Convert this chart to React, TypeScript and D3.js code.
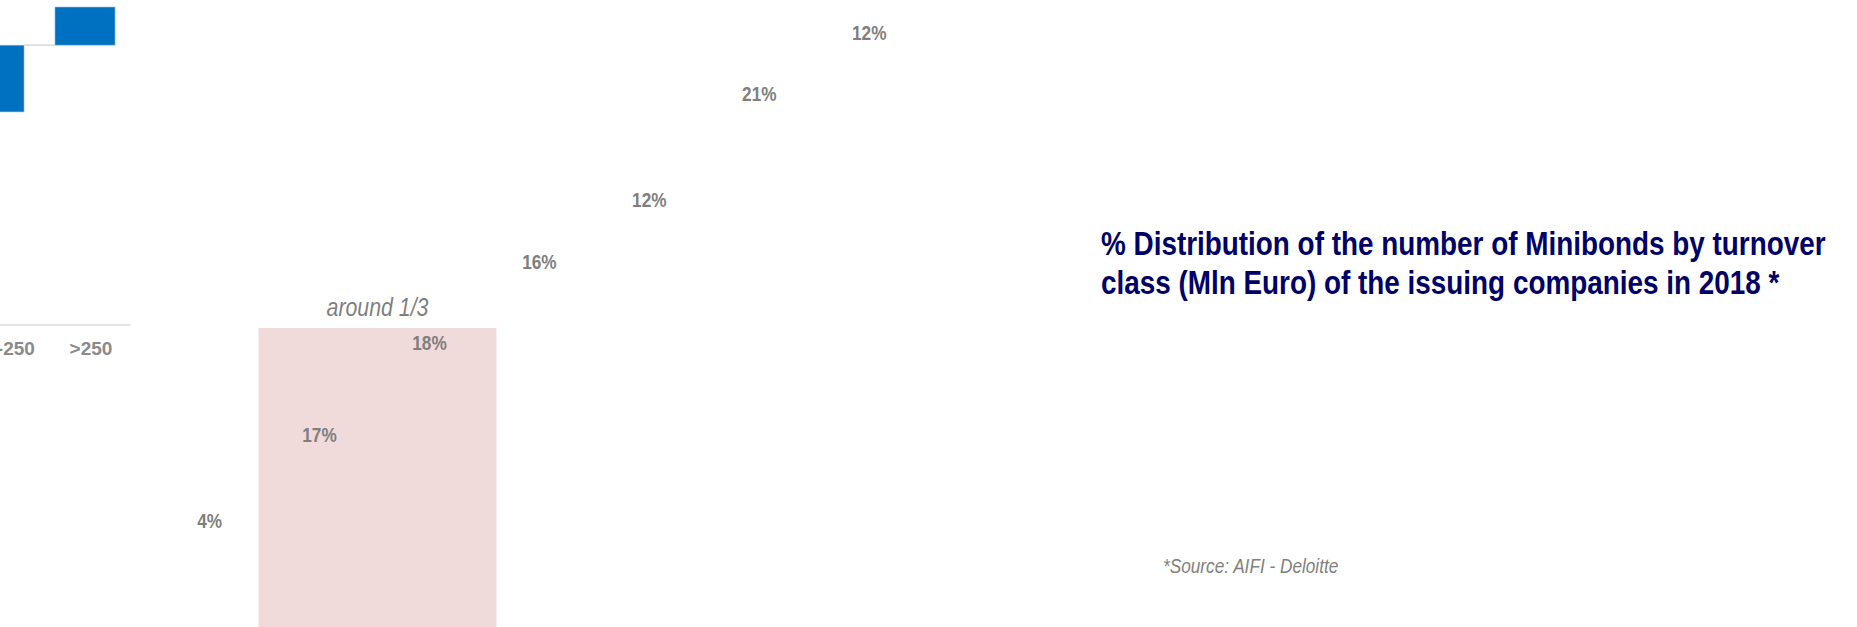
import * as d3 from 'd3';

// turnover classes (Mln Euro) and share of minibonds in 2018
const categories = ['<5', '5-10', '10-25', '25-50', '50-100', '100-250', '>250'];
const shares = [4, 17, 18, 16, 12, 21, 12];
const highlighted = ['5-10', '10-25'];
const highlightNote = 'around 1/3';
const titleLines = [
    '% Distribution of the number of Minibonds by turnover',
    'class (Mln Euro) of the issuing companies in 2018 *',
];
const sourceNote = '*Source: AIFI - Deloitte';

const W = 1857;
const H = 627;
const GREY = '#7f7f7f';
const FONT = "'Liberation Sans', Arial, sans-serif";
const NARROW = 0.82; // no Arial Narrow here, so squeeze Liberation Sans

// text squeezed horizontally to look like a narrow face
const Narrow = ({ x, y, children, ...rest }: any) => (
    <text transform={`translate(${x},${y}) scale(${NARROW},1)`} fontFamily={FONT} {...rest}>
        {children}
    </text>
);

const App = () => {
    const ends = Array.from(d3.cumsum(shares));
    const starts = ends.map((e, i) => e - shares[i]);

    // small blue waterfall, mostly cut off on the left
    const xMini = d3.scaleBand<string>()
        .domain(categories)
        .range([-506.5, 130.5])
        .paddingInner(0.34)
        .paddingOuter(0.17);
    const yMini = d3.scaleLinear().domain([0, 100]).range([325, 7]);
    const mbw = xMini.bandwidth();

    // large waterfall whose bars are hidden, only labels show
    const xBig = d3.scaleBand<string>().domain(categories).range([154.6, 924.2]);
    const yBig = d3.scaleLinear().domain([0, 100]).range([541, 32]);
    const bw = xBig.bandwidth();

    const hx0 = xBig(highlighted[0])! - 6;
    const hx1 = xBig(highlighted[highlighted.length - 1])! + bw + 12;

    return (
        <svg width={W} height={H} style={{ position: 'absolute', left: 0, top: 0, background: '#fff' }}>
            {/* highlight band */}
            <rect x={hx0} y={328} width={hx1 - hx0} height={H - 328} fill="#f0dada" />
            <Narrow x={(hx0 + hx1) / 2} y={316} textAnchor="middle" fill={GREY} fontStyle="italic" fontSize={26}>
                {highlightNote}
            </Narrow>

            {/* mini chart */}
            <line x1={0} x2={xMini.range()[1]} y1={yMini(0)} y2={yMini(0)} stroke="#d9d9d9" strokeWidth={1.5} />
            {categories.map((c, i) => (
                <rect key={c} x={xMini(c)} y={yMini(ends[i])} width={mbw}
                    height={yMini(starts[i]) - yMini(ends[i])} fill="#0070c0" stroke="#9cc3e6" strokeWidth={0.6} />
            ))}
            {categories.slice(0, -1).map((c, i) => (
                <line key={c} x1={xMini(c)! + mbw} x2={xMini(categories[i + 1])}
                    y1={yMini(ends[i])} y2={yMini(ends[i])} stroke="#d9d9d9" strokeWidth={1.5} />
            ))}
            {categories.filter(c => xMini(c)! + mbw > 0).map(c => (
                <text key={c} x={xMini(c)! + mbw / 2 + 6} y={355} textAnchor="middle" fill="#8a8a8a"
                    fontFamily={FONT} fontWeight="bold" fontSize={19}>
                    {c}
                </text>
            ))}

            {/* value labels */}
            {categories.map((c, i) => (
                <Narrow key={c} x={xBig(c)! + bw / 2} y={yBig(ends[i]) + 7.5} textAnchor="middle" fill={GREY}
                    fontWeight="bold" fontSize={21}>
                    {shares[i]}%
                </Narrow>
            ))}

            {/* title */}
            {titleLines.map((l, i) => (
                <Narrow key={i} x={1101} y={255 + i * 39} fill="#000066" fontWeight="bold" fontSize={34}>
                    {l}
                </Narrow>
            ))}

            <Narrow x={1163} y={573} fill={GREY} fontStyle="italic" fontSize={21}>
                {sourceNote}
            </Narrow>
        </svg>
    );
};

export default App;
